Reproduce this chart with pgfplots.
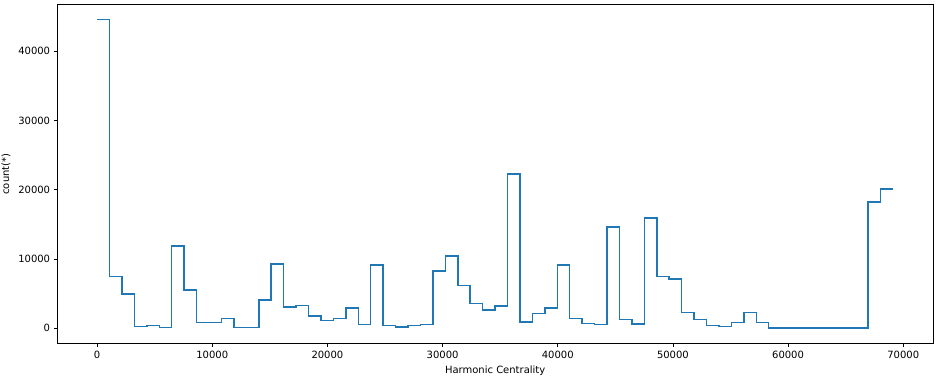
\documentclass[border=0pt]{standalone}
\usepackage{fontspec}
\setmainfont{DejaVu Sans}
\usepackage{pgfplots}
\usetikzlibrary{calc}
\pgfplotsset{compat=1.18}
\definecolor{mplblue}{HTML}{1F77B4}
\begin{document}
\begin{tikzpicture}
\useasboundingbox (-57.3pt,-32.3pt) rectangle (878.7pt,343.7pt);
\begin{axis}[
  at={(0,0)}, anchor=south west,
  scale only axis, width=875.7pt, height=339.4pt,
  xmin=-3456, xmax=72586, ymin=-2227, ymax=46777,
  xtick={0,10000,20000,30000,40000,50000,60000,70000},
  ytick={0,10000,20000,30000,40000},
  scaled ticks=false,
  /pgf/number format/set thousands separator={},
  /pgf/number format/assume math mode=true,
  tick align=outside, major tick length=3.5pt,
  tick style={black, line width=0.8pt},
  axis line style={line width=0.8pt},
  xtick pos=lower, ytick pos=left,
  ticklabel style={font=\fontsize{10}{12}\selectfont},
  xticklabel style={anchor=north, inner sep=0pt, yshift=-4pt},
  yticklabel style={anchor=east, inner sep=0pt, xshift=-3.5pt},
  xlabel={Harmonic Centrality}, ylabel={count(*)},
  label style={font=\fontsize{10}{12}\selectfont},
  xlabel style={at={(axis description cs:0.5,0)}, anchor=north, inner sep=0pt, yshift=-22pt},
  ylabel style={at={($(axis description cs:0,0.5)+(-51.4pt,0pt)$)}, anchor=center, inner sep=0pt},
]
\addplot[const plot, mplblue, line width=1.5pt, line join=miter] coordinates {
(0,44550) (1080,7450) (2160,4950) (3240,250) (4320,380) (5400,100) (6480,11850) (7560,5550)
(8640,800) (9720,800) (10800,1380) (11880,80) (12960,80) (14040,4100) (15120,9300) (16200,3100)
(17280,3300) (18360,1800) (19440,1100) (20520,1380) (21600,2950) (22680,550) (23760,9150) (24840,380)
(25920,200) (27000,370) (28080,560) (29160,8300) (30240,10450) (31320,6150) (32400,3550) (33480,2650)
(34560,3250) (35640,22250) (36720,920) (37800,2100) (38880,2950) (39960,9150) (41040,1380) (42120,700)
(43200,560) (44280,14600) (45360,1250) (46440,650) (47520,15900) (48600,7450) (49680,7150) (50760,2250)
(51840,1250) (52920,430) (54000,230) (55080,800) (56160,2250) (57240,800) (58320,60) (59400,60)
(60480,60) (61560,60) (62640,60) (63720,60) (64800,60) (65880,60) (66960,18200) (68040,20100)
(69120,20100)
};
\end{axis}
\end{tikzpicture}
\end{document}
